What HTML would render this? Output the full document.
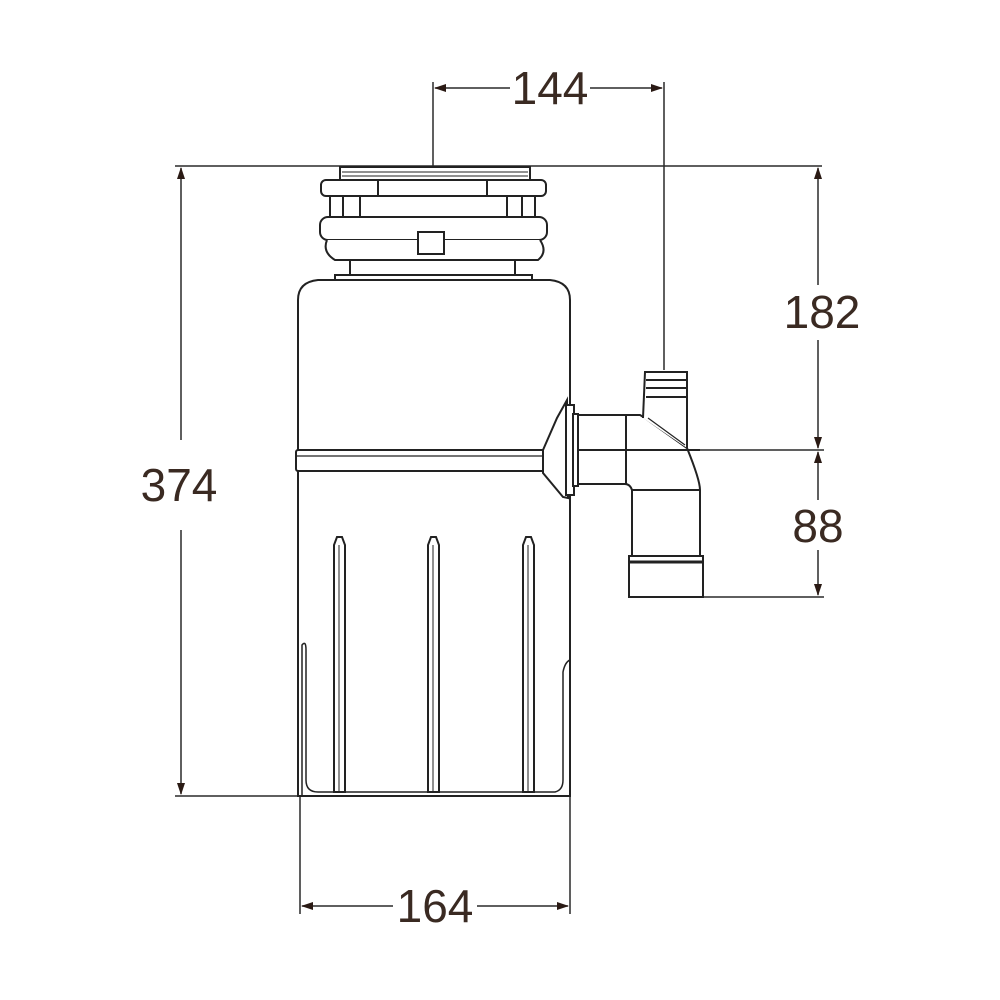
<!DOCTYPE html>
<html><head><style>html,body{margin:0;padding:0;background:#fff}svg{display:block}</style></head><body>
<svg width="1000" height="1000" viewBox="0 0 1000 1000" xmlns="http://www.w3.org/2000/svg">
<defs>
<marker id="a" markerWidth="12" markerHeight="8" refX="11" refY="4" orient="auto-start-reverse" markerUnits="userSpaceOnUse">
<path d="M0,0 L12,4 L0,8 z" fill="#2a1a14"/></marker>
</defs>
<g stroke="#2a2a2a" stroke-width="1.5" fill="none">
<line x1="175" y1="166" x2="822" y2="166"/>
<line x1="175" y1="796" x2="305" y2="796"/>
<line x1="433" y1="82" x2="433" y2="166"/>
<line x1="664" y1="82" x2="664" y2="370"/>
<line x1="690" y1="450" x2="824" y2="450"/>
<line x1="700" y1="597" x2="824" y2="597"/>
<line x1="300" y1="640" x2="300" y2="914"/>
<line x1="570" y1="620" x2="570" y2="914"/>
<line x1="181" y1="168" x2="181" y2="440" marker-start="url(#a)"/>
<line x1="181" y1="530" x2="181" y2="794" marker-end="url(#a)"/>
<line x1="435" y1="88" x2="510" y2="88" marker-start="url(#a)"/>
<line x1="590" y1="88" x2="662" y2="88" marker-end="url(#a)"/>
<line x1="818" y1="168" x2="818" y2="285" marker-start="url(#a)"/>
<line x1="818" y1="340" x2="818" y2="448" marker-end="url(#a)"/>
<line x1="818" y1="452" x2="818" y2="500" marker-start="url(#a)"/>
<line x1="818" y1="550" x2="818" y2="595" marker-end="url(#a)"/>
<line x1="302" y1="906" x2="393" y2="906" marker-start="url(#a)"/>
<line x1="477" y1="906" x2="568" y2="906" marker-end="url(#a)"/>
</g>
<g font-family="Liberation Sans, sans-serif" font-size="46" fill="#3a2a22" text-anchor="middle">
<text x="179" y="501">374</text>
<text x="550" y="104">144</text>
<text x="822" y="328">182</text>
<text x="818" y="542">88</text>
<text x="435" y="922">164</text>
</g>
<g stroke="#222" stroke-width="2" fill="#fff">
<rect x="340" y="167" width="190" height="14"/>
<line x1="342" y1="172" x2="528" y2="172" stroke-width="1"/>
<line x1="342" y1="176" x2="528" y2="176" stroke-width="1"/>
<rect x="321" y="180" width="225" height="16" rx="5"/>
<line x1="378" y1="180" x2="378" y2="196"/><line x1="487" y1="180" x2="487" y2="196"/>
<line x1="330" y1="196" x2="330" y2="218"/><line x1="343" y1="196" x2="343" y2="218"/><line x1="360" y1="196" x2="360" y2="218"/>
<line x1="507" y1="196" x2="507" y2="218"/><line x1="522" y1="196" x2="522" y2="218"/><line x1="535" y1="196" x2="535" y2="218"/>
<rect x="320" y="217" width="227" height="23" rx="8"/>
<path d="M327,240 Q322,252 335,260 L538,260 Q548,252 540,240"/>
<rect x="418" y="232" width="26" height="22"/>
<line x1="350" y1="260" x2="350" y2="275"/><line x1="515" y1="260" x2="515" y2="275"/>
<path d="M335,275 L532,275 L532,280 L335,280 Z"/>
<path d="M298,796 L298,300 Q298,282 318,280 L550,280 Q570,282 570,300 L570,796 Z"/>
<path d="M302,796 L302,645 Q306,640 306,650 L306,780 Q306,792 318,792 L555,792 Q563,790 563,780 L563,672 Q565,662 570,660" fill="none" stroke-width="1.5"/>
<rect x="296" y="450" width="250" height="21" rx="2"/>
<line x1="296" y1="456" x2="546" y2="456" stroke-width="1.2"/>
<path d="M334,792 L334,545 L337,537 L342,537 L345,545 L345,792 Z"/>
<path d="M428,792 L428,545 L431,537 L436,537 L439,545 L439,792 Z"/>
<path d="M523,792 L523,545 L526,537 L531,537 L534,545 L534,792 Z"/>
<line x1="339" y1="545" x2="339" y2="792" stroke-width="1"/>
<line x1="433" y1="545" x2="433" y2="792" stroke-width="1"/>
<line x1="528" y1="545" x2="528" y2="792" stroke-width="1"/>
<path d="M543,450 L557,418 L567,400 L568,498 L563,497 L543,473 Z"/>
<rect x="566" y="405" width="8" height="90"/>
<rect x="573" y="414" width="5" height="72"/>
<path d="M578,415 L640,415 L645,418 L687,448 Q700,480 700,490 L700,560 L632,560 L632,490 Q630,484 625,484 L578,484 Z"/>
<line x1="626" y1="415" x2="626" y2="484"/>
<line x1="578" y1="450" x2="700" y2="450"/>
<line x1="632" y1="490" x2="700" y2="490"/>
<path d="M643,418 L645,372 L687,372 L687,448"/>
<line x1="646" y1="380" x2="687" y2="380"/><line x1="646" y1="388" x2="687" y2="388"/><line x1="646" y1="397" x2="687" y2="397"/>
<path d="M648,418 L685,445" fill="none" stroke-width="1.2"/>
<rect x="629" y="556" width="74" height="41"/>
<line x1="629" y1="562" x2="703" y2="562" stroke-width="3"/>
</g>
</svg>
</body></html>
